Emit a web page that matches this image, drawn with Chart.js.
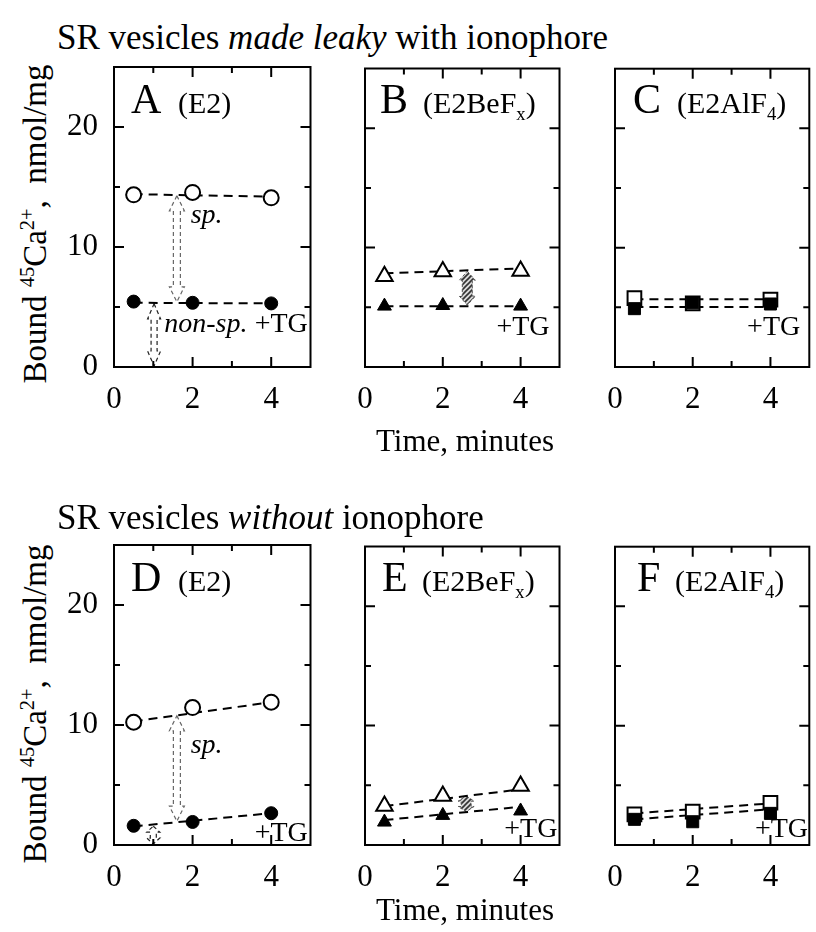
<!DOCTYPE html>
<html>
<head>
<meta charset="utf-8">
<script src="https://cdn.jsdelivr.net/npm/chart.js@4.4.1/dist/chart.umd.min.js"></script>
<style>
  html, body { margin: 0; padding: 0; overflow: hidden; background: #fff; }
  #fig { position: relative; width: 816px; height: 932px; overflow: hidden;
         font-family: "Liberation Serif", "Times New Roman", serif; color: #000; }
  #fig canvas { position: absolute; }
  .t { position: absolute; white-space: nowrap; line-height: 1; }
  .t sub, .t sup { line-height: 0; font-size: 0.62em; }
</style>
</head>
<body>
<div id="fig"></div>
<script>
// time points (minutes) and fit line ends
const TIMES = [0.5, 2, 4];
const FIT_T = [0.5, 4];
const X_LABELS = [0, 2, 4];
const Y_LABELS = [0, 10, 20];

// A  (E2), leaky
const A_OPEN = [14.35, 14.55, 14.1];
const A_FILLED = [5.45, 5.35, 5.3];
const A_OPEN_FIT = [14.4, 14.2];
const A_FILLED_FIT = [5.35, 5.3];

// B  (E2BeFx), leaky
const B_OPEN = [7.6, 8.0, 8.05];
const B_FILLED = [5.1, 5.15, 5.1];
const B_OPEN_FIT = [7.85, 8.25];
const B_FILLED_FIT = [5.08, 5.08];

// C  (E2AlF4), leaky
const C_OPEN = [5.78, 5.33, 5.64];
const C_FILLED = [4.89, 5.39, 5.28];
const C_OPEN_FIT = [5.67, 5.67];
const C_FILLED_FIT = [5.03, 5.03];

// D  (E2), no ionophore
const D_OPEN = [10.23, 11.45, 11.9];
const D_FILLED = [1.6, 1.92, 2.65];
const D_OPEN_FIT = [10.3, 11.9];
const D_FILLED_FIT = [1.55, 2.65];

// E  (E2BeFx), no ionophore
const E_OPEN = [3.26, 4.1, 4.94];
const E_FILLED = [1.92, 2.48, 2.85];
const E_OPEN_FIT = [3.26, 4.66];
const E_FILLED_FIT = [2.09, 3.2];

// F  (E2AlF4), no ionophore
const F_OPEN = [2.57, 2.79, 3.54];
const F_FILLED = [2.15, 1.95, 2.65];
const F_OPEN_FIT = [2.65, 3.49];
const F_FILLED_FIT = [2.15, 2.99];

// double arrows (x, top, bottom in data units)
const A_ARROWS = [{ x: 1.6, top: 14.35, bottom: 5.35, kind: 'sp' }, { x: 1.02, top: 5.35, bottom: 0, kind: 'nonsp' }];
const B_ARROWS = [{ x: 2.63, top: 8.1, bottom: 5.1, kind: 'hatch' }];
const D_ARROWS = [{ x: 1.6, top: 10.85, bottom: 1.9, kind: 'sp' }, { x: 1.0, top: 1.65, bottom: 0, kind: 'nonsp' }];
const E_ARROWS = [{ x: 2.6, top: 4.2, bottom: 2.7, kind: 'hatch' }];

// in-plot notes (left edge, baseline in data units)
const A_NOTES = [{ t: '<i>sp.</i>', x: 1.95, y: 12.0 }, { t: '<i>non-sp.</i>', x: 1.28, y: 2.9 }, { t: '+TG', x: 3.58, y: 2.9 }];
const B_NOTES = [{ t: '+TG', x: 3.38, y: 2.67 }];
const C_NOTES = [{ t: '+TG', x: 3.4, y: 2.67 }];
const D_NOTES = [{ t: '<i>sp.</i>', x: 1.95, y: 7.6 }, { t: '+TG', x: 3.58, y: 0.33 }];
const E_NOTES = [{ t: '+TG', x: 3.58, y: 0.6 }];
const F_NOTES = [{ t: '+TG', x: 3.6, y: 0.6 }];

const FIG = document.getElementById('fig');
const ROW_TOP = [67, 545];
const COL_LEFT = [114, 365, 615];
const PW = 200, PH = 300;
const PAD_L = 60, PAD_T = 10, PAD_R = 6, PAD_B = 60;
const FONT = '"Liberation Serif", "Times New Roman", serif';
const TICK_FONT = { family: FONT, size: 31 };

function pts(xs, ys) { return xs.map((x, i) => ({ x: x, y: ys[i] })); }

function addText(html, left, baseline, size, extra) {
  const d = document.createElement('div');
  d.className = 't';
  d.innerHTML = html;
  d.style.fontSize = size + 'px';
  d.style.left = left + 'px';
  d.style.top = (baseline - 0.8375 * size) + 'px';
  if (extra) Object.assign(d.style, extra);
  FIG.appendChild(d);
  return d;
}

function hatchPattern(ctx) {
  const c = document.createElement('canvas');
  c.width = 5; c.height = 5;
  const g = c.getContext('2d');
  g.fillStyle = '#d8d8d8';
  g.fillRect(0, 0, 5, 5);
  g.strokeStyle = '#333';
  g.lineWidth = 1.6;
  g.beginPath();
  g.moveTo(-1, 6); g.lineTo(6, -1);
  g.moveTo(-1, 1); g.lineTo(1, -1);
  g.moveTo(4, 6); g.lineTo(6, 4);
  g.stroke();
  return ctx.createPattern(c, 'repeat');
}

function arrowPath(ctx, cx, y1, y2, hw, sw, hl) {
  ctx.beginPath();
  ctx.moveTo(cx, y1);
  ctx.lineTo(cx + hw, y1 + hl);
  ctx.lineTo(cx + sw, y1 + hl);
  ctx.lineTo(cx + sw, y2 - hl);
  ctx.lineTo(cx + hw, y2 - hl);
  ctx.lineTo(cx, y2);
  ctx.lineTo(cx - hw, y2 - hl);
  ctx.lineTo(cx - sw, y2 - hl);
  ctx.lineTo(cx - sw, y1 + hl);
  ctx.lineTo(cx - hw, y1 + hl);
  ctx.closePath();
}

const arrowPlugin = {
  id: 'arrows',
  beforeDatasetsDraw(chart, args, opts) {
    const { ctx, scales: { x, y } } = chart;
    (opts.items || []).forEach(a => {
      const cx = x.getPixelForValue(a.x);
      const y1 = y.getPixelForValue(a.top) + 1;
      const y2 = y.getPixelForValue(a.bottom) - 1;
      const len = y2 - y1;
      ctx.save();
      if (a.kind === 'hatch') {
        arrowPath(ctx, cx, y1, y2, 8, 5, Math.min(9, len / 3));
        ctx.fillStyle = hatchPattern(ctx);
        ctx.fill();
        ctx.setLineDash([3, 2]);
        ctx.lineWidth = 1;
        ctx.strokeStyle = '#555';
        ctx.stroke();
      } else {
        const hl = Math.min(15, len / 3);
        arrowPath(ctx, cx, y1, y2, a.kind === 'sp' ? 7.5 : 6.5, a.kind === 'sp' ? 3.5 : 3, hl);
        ctx.setLineDash([4, 3]);
        ctx.lineWidth = 1.2;
        ctx.strokeStyle = a.kind === 'sp' ? '#666' : '#222';
        ctx.stroke();
      }
      ctx.restore();
    });
  }
};

const framePlugin = {
  id: 'frame',
  afterDraw(chart) {
    const { ctx, chartArea: a, scales: { x, y } } = chart;
    ctx.save();
    ctx.strokeStyle = '#000';
    ctx.lineWidth = 2;
    ctx.setLineDash([]);
    ctx.strokeRect(a.left, a.top, a.right - a.left, a.bottom - a.top);
    ctx.beginPath();
    x.ticks.forEach(t => {
      if (t.value <= x.min || t.value >= x.max) return;
      const px = x.getPixelForValue(t.value);
      const len = t.value % 2 === 0 ? 10 : 6;
      ctx.moveTo(px, a.bottom); ctx.lineTo(px, a.bottom - len);
      ctx.moveTo(px, a.top); ctx.lineTo(px, a.top + len);
    });
    y.ticks.forEach(t => {
      if (t.value <= y.min || t.value >= y.max) return;
      const py = y.getPixelForValue(t.value);
      const len = t.value % 10 === 0 ? 10 : 6;
      ctx.moveTo(a.left, py); ctx.lineTo(a.left + len, py);
      ctx.moveTo(a.right, py); ctx.lineTo(a.right - len, py);
    });
    ctx.stroke();
    ctx.restore();
  }
};

const PANELS = [
  { row: 0, col: 0, letter: 'A', sub: '(E2)', lx: 17, sx: 64, marker: 'circle', rOpen: 7.5, rFilled: 6.5,
    open: A_OPEN, filled: A_FILLED, openFit: A_OPEN_FIT, filledFit: A_FILLED_FIT, arrows: A_ARROWS, notes: A_NOTES, yLabels: true },
  { row: 0, col: 1, letter: 'B', sub: '(E2BeF<sub>x</sub>)', lx: 15, sx: 58, marker: 'triangle', rOpen: 9.5, rFilled: 8,
    open: B_OPEN, filled: B_FILLED, openFit: B_OPEN_FIT, filledFit: B_FILLED_FIT, arrows: B_ARROWS, notes: B_NOTES },
  { row: 0, col: 2, letter: 'C', sub: '(E2AlF<sub>4</sub>)', lx: 18, sx: 62, marker: 'rect', rOpen: 9.7, rFilled: 8.5,
    open: C_OPEN, filled: C_FILLED, openFit: C_OPEN_FIT, filledFit: C_FILLED_FIT, arrows: [], notes: C_NOTES },
  { row: 1, col: 0, letter: 'D', sub: '(E2)', lx: 17, sx: 64, marker: 'circle', rOpen: 7.5, rFilled: 6.5,
    open: D_OPEN, filled: D_FILLED, openFit: D_OPEN_FIT, filledFit: D_FILLED_FIT, arrows: D_ARROWS, notes: D_NOTES, yLabels: true },
  { row: 1, col: 1, letter: 'E', sub: '(E2BeF<sub>x</sub>)', lx: 17, sx: 57, marker: 'triangle', rOpen: 9.5, rFilled: 8,
    open: E_OPEN, filled: E_FILLED, openFit: E_OPEN_FIT, filledFit: E_FILLED_FIT, arrows: E_ARROWS, notes: E_NOTES },
  { row: 1, col: 2, letter: 'F', sub: '(E2AlF<sub>4</sub>)', lx: 22, sx: 60, marker: 'rect', rOpen: 9.7, rFilled: 8.5,
    open: F_OPEN, filled: F_FILLED, openFit: F_OPEN_FIT, filledFit: F_FILLED_FIT, arrows: [], notes: F_NOTES }
];

function fitLine(data) {
  return { type: 'line', data: data, borderColor: '#000', borderWidth: 2, borderDash: [9, 6],
           pointRadius: 0, fill: false, tension: 0, order: 2 };
}

function noPad(s) {
  s.paddingTop = 0; s.paddingBottom = 0; s.paddingLeft = 0; s.paddingRight = 0;
}

function makePanel(p) {
  const left = COL_LEFT[p.col], top = ROW_TOP[p.row];
  const cw = PAD_L + PW + PAD_R, ch = PAD_T + PH + PAD_B;
  const cv = document.createElement('canvas');
  cv.width = cw; cv.height = ch;
  cv.style.left = (left - PAD_L) + 'px';
  cv.style.top = (top - PAD_T) + 'px';
  cv.style.width = cw + 'px';
  cv.style.height = ch + 'px';
  FIG.appendChild(cv);

  const chart = new Chart(cv.getContext('2d'), {
    type: 'scatter',
    data: {
      datasets: [
        fitLine(pts(FIT_T, p.openFit)),
        fitLine(pts(FIT_T, p.filledFit)),
        { data: pts(TIMES, p.open), showLine: false, pointStyle: p.marker, pointRadius: p.rOpen,
          pointBackgroundColor: '#fff', pointBorderColor: '#000', pointBorderWidth: 2, order: 1 },
        { data: pts(TIMES, p.filled), showLine: false, pointStyle: p.marker, pointRadius: p.rFilled,
          pointBackgroundColor: '#000', pointBorderColor: '#000', pointBorderWidth: 1, order: 0 }
      ]
    },
    options: {
      responsive: false,
      animation: false,
      events: [],
      layout: { padding: { left: 0, top: PAD_T, right: PAD_R, bottom: 0 } },
      plugins: { legend: { display: false }, tooltip: { enabled: false }, arrows: { items: p.arrows } },
      scales: {
        x: {
          type: 'linear', min: 0, max: 5,
          afterFit: s => { s.height = PAD_B; noPad(s); },
          grid: { display: false, drawTicks: false },
          border: { display: false },
          ticks: { stepSize: 1, autoSkip: false, maxRotation: 0, padding: 14, color: '#000', font: TICK_FONT,
                   callback: v => X_LABELS.includes(v) ? String(v) : '' }
        },
        y: {
          min: 0, max: 25,
          afterFit: s => { s.width = PAD_L; noPad(s); },
          grid: { display: false, drawTicks: false },
          border: { display: false },
          ticks: { stepSize: 5, autoSkip: false, padding: 16, color: '#000', font: TICK_FONT,
                   callback: v => (p.yLabels && Y_LABELS.includes(v)) ? String(v) : '' }
        }
      }
    },
    plugins: [arrowPlugin, framePlugin]
  });

  const ox = left - PAD_L, oy = top - PAD_T;
  p.notes.forEach(n => {
    addText(n.t, ox + chart.scales.x.getPixelForValue(n.x), oy + chart.scales.y.getPixelForValue(n.y), 28);
  });
  addText(p.letter, left + p.lx, top + 46, 42);
  addText(p.sub, left + p.sx, top + 46, 30);
}

PANELS.forEach(makePanel);

// titles and axis names
addText('SR vesicles <i>made leaky</i> with ionophore', 57, 49, 35);
addText('SR vesicles <i>without</i> ionophore', 57, 529, 35);
addText('Time, minutes', 465, 451, 31, { transform: 'translateX(-50%)' });
addText('Time, minutes', 465, 920, 31, { transform: 'translateX(-50%)' });

const yTitle = 'Bound <sup>45</sup>Ca<sup>2+</sup>,&nbsp; nmol/mg';
[224, 704].forEach(cy => {
  const d = addText(yTitle, 35, 0, 33);
  d.style.top = cy + 'px';
  d.style.transform = 'translate(-50%, -50%) rotate(-90deg)';
});
</script>
</body>
</html>
